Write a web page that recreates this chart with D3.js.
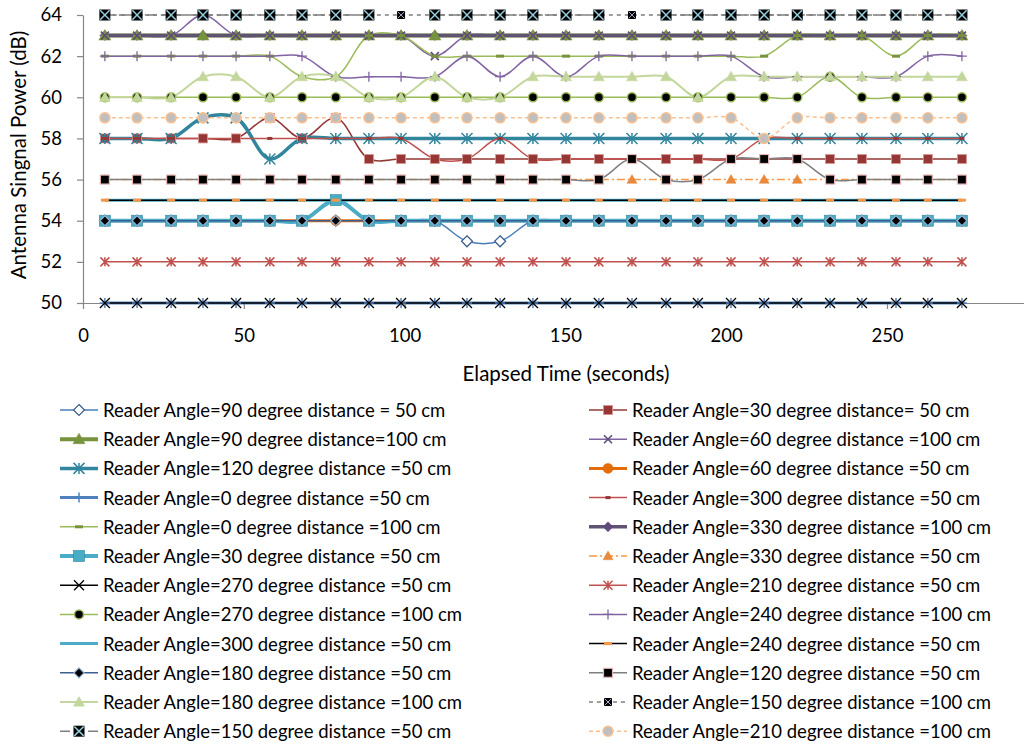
<!DOCTYPE html>
<html>
<head>
<meta charset="utf-8">
<script src="https://cdn.jsdelivr.net/npm/d3@7"></script>
<style>
  html, body { margin: 0; padding: 0; background: #fff; }
  svg { display: block; font-family: Lato, "Open Sans", sans-serif; }
</style>
</head>
<body>
<svg id="chart" width="1024" height="744"></svg>
<script>
// Sample times (seconds)
const times = [6.8, 16.8, 27.4, 37.3, 47.6, 58.1, 68.1, 78.6, 88.9, 98.9, 109.4, 119.4, 129.7, 139.9,
  150.2, 160.4, 170.7, 181.3, 191.2, 201.5, 211.8, 222.1, 232.3, 242.2, 252.8, 262.7, 273.3];

const yTicks = [50, 52, 54, 56, 58, 60, 62, 64];
const xTicks = [0, 50, 100, 150, 200, 250];

// Measured signal power (dB) per reader angle / distance
const a90d50   = [54,54,54,54,54,54,54,54,54,54,54,53,53,54,54,54,54,54,54,54,54,54,54,54,54,54,54];
const a30d50r  = [58,58,58,58,58,59,58,59,57,57,57,57,57,57,57,57,57,57,57,57,57,57,57,57,57,57,57];
const a90d100  = [63,63,63,63,63,63,63,63,63,63,63,63,63,63,63,63,63,63,63,63,63,63,63,63,63,63,63];
const a60d100  = [63,63,63,64,63,63,63,63,63,63,62,63,63,63,63,63,63,63,63,63,63,63,63,63,63,63,63];
const a120d50  = [58,58,58,59,59,57,58,58,58,58,58,58,58,58,58,58,58,58,58,58,58,58,58,58,58,58,58];
const a60d50   = [54,54,54,54,54,54,54,54,54,54,54,54,54,54,54,54,54,54,54,54,54,54,54,54,54,54,54];
const a0d50    = [50,50,50,50,50,50,50,50,50,50,50,50,50,50,50,50,50,50,50,50,50,50,50,50,50,50,50];
const a300d50r = [58,58,58,58,58,58,58,58,58,58,57,57,58,57,57,57,57,57,57,57,58,58,58,58,58,58,58];
const a0d100   = [62,62,62,62,62,62,61,61,63,63,62,62,62,62,62,62,62,62,62,62,62,63,63,63,62,63,63];
const a330d100 = [63,63,63,63,63,63,63,63,63,63,63,63,63,63,63,63,63,63,63,63,63,63,63,63,63,63,63];
const a30d50b  = [54,54,54,54,54,54,54,55,54,54,54,54,54,54,54,54,54,54,54,54,54,54,54,54,54,54,54];
const a330d50  = [56,56,56,56,56,56,56,56,56,56,56,56,56,56,56,56,56,56,56,56,56,56,56,56,56,56,56];
const a270d50  = [50,50,50,50,50,50,50,50,50,50,50,50,50,50,50,50,50,50,50,50,50,50,50,50,50,50,50];
const a210d50  = [52,52,52,52,52,52,52,52,52,52,52,52,52,52,52,52,52,52,52,52,52,52,52,52,52,52,52];
const a270d100 = [60,60,60,60,60,60,60,60,60,60,60,60,60,60,60,60,60,60,60,60,60,60,61,60,60,60,60];
const a240d100 = [62,62,62,62,62,62,62,61,61,61,61,62,61,62,61,62,62,62,62,62,61,61,61,61,61,62,62];
const a300d50b = [55,55,55,55,55,55,55,55,55,55,55,55,55,55,55,55,55,55,55,55,55,55,55,55,55,55,55];
const a240d50  = [55,55,55,55,55,55,55,55,55,55,55,55,55,55,55,55,55,55,55,55,55,55,55,55,55,55,55];
const a180d50  = [54,54,54,54,54,54,54,54,54,54,54,54,54,54,54,54,54,54,54,54,54,54,54,54,54,54,54];
const a120d50g = [56,56,56,56,56,56,56,56,56,56,56,56,56,56,56,56,57,56,56,57,57,57,56,56,56,56,56];
const a180d100 = [60,60,60,61,61,60,61,61,60,60,61,60,60,61,61,61,61,61,60,61,61,61,61,61,61,61,61];
const a150d100 = [64,64,64,64,64,64,64,64,64,64,64,64,64,64,64,64,64,64,64,64,64,64,64,64,64,64,64];
const a150d50  = [64,64,64,64,64,64,64,64,64,null,64,64,64,64,64,64,null,64,64,64,64,64,64,64,64,64,64];
const a210d100 = [59,59,59,59,59,59,59,59,59,59,59,59,59,59,59,59,59,59,59,59,58,59,59,59,59,59,59];

// Series table: label, values and drawing style
const series = [
  { name: "Reader Angle=90 degree distance = 50 cm", values: a90d50, color: "#4A7EBB", width: 1.5,
    marker: { type: "diamond", r: 5.5, fill: "#fff", stroke: "#385D8A", sw: 1.2 } },
  { name: "Reader Angle=30 degree distance= 50 cm", values: a30d50r, color: "#953735", width: 1.5,
    marker: { type: "square", r: 4.5, fill: "#953735", stroke: "#D99694", sw: 0.8 } },
  { name: "Reader Angle=90 degree distance=100 cm", values: a90d100, color: "#77933C", width: 4,
    marker: { type: "triangle", r: 6, fill: "#77933C", stroke: "#77933C", sw: 0.5 } },
  { name: "Reader Angle=60 degree distance =100 cm", values: a60d100, color: "#8064A2", width: 1.5,
    marker: { type: "x", r: 4, fill: "none", stroke: "#604A7B", sw: 1.6 } },
  { name: "Reader Angle=120 degree distance =50 cm", values: a120d50, color: "#31859C", width: 3.5,
    marker: { type: "star", r: 5.5, fill: "none", stroke: "#31859C", sw: 1.5 } },
  { name: "Reader Angle=60 degree distance =50 cm", values: a60d50, color: "#E46C0A", width: 3,
    marker: { type: "circle", r: 5, fill: "#E46C0A", stroke: "#E46C0A", sw: 0.5 } },
  { name: "Reader Angle=0 degree distance =50 cm", values: a0d50, color: "#4F81BD", width: 3,
    marker: { type: "plus", r: 5, fill: "none", stroke: "#4F81BD", sw: 1.5 } },
  { name: "Reader Angle=300 degree distance =50 cm", values: a300d50r, color: "#C0504D", width: 1.5,
    marker: { type: "dash", r: 2.5, fill: "#953735", stroke: "none", sw: 0 } },
  { name: "Reader Angle=0 degree distance =100 cm", values: a0d100, color: "#9BBB59", width: 1.5,
    marker: { type: "dash", r: 4, fill: "#77933C", stroke: "none", sw: 0 } },
  { name: "Reader Angle=330 degree distance =100 cm", values: a330d100, color: "#5E5472", width: 3.5,
    marker: { type: "diamond", r: 5, fill: "#604A7B", stroke: "#604A7B", sw: 0.5 }, under: true },
  { name: "Reader Angle=30 degree distance =50 cm", values: a30d50b, color: "#4BACC6", width: 4,
    marker: { type: "square", r: 5.5, fill: "#4BACC6", stroke: "#31859C", sw: 0.6 } },
  { name: "Reader Angle=330 degree distance =50 cm", values: a330d50, color: "#F79646", width: 1.5,
    dash: "8,3,2,3", marker: { type: "triangle", r: 5, fill: "#E8893B", stroke: "#E8893B", sw: 0.5 } },
  { name: "Reader Angle=270 degree distance =50 cm", values: a270d50, color: "#000", width: 1.5,
    marker: { type: "x", r: 5, fill: "none", stroke: "#000", sw: 1.3 } },
  { name: "Reader Angle=210 degree distance =50 cm", values: a210d50, color: "#C0504D", width: 1.5,
    marker: { type: "star", r: 4.5, fill: "none", stroke: "#C0504D", sw: 1.5 } },
  { name: "Reader Angle=270 degree distance =100 cm", values: a270d100, color: "#9BBB59", width: 1.5,
    marker: { type: "circle", r: 4.5, fill: "#000", stroke: "#9BBB59", sw: 1.5 } },
  { name: "Reader Angle=240 degree distance =100 cm", values: a240d100, color: "#8064A2", width: 1.5,
    marker: { type: "plus", r: 5, fill: "none", stroke: "#8064A2", sw: 1.3 } },
  { name: "Reader Angle=300 degree distance =50 cm", values: a300d50b, color: "#4BACC6", width: 3,
    marker: null },
  { name: "Reader Angle=240 degree distance =50 cm", values: a240d50, color: "#000", width: 1.5,
    marker: { type: "dash", r: 4, fill: "#F79646", stroke: "none", sw: 0 } },
  { name: "Reader Angle=180 degree distance =50 cm", values: a180d50, color: "#3B5E91", width: 1.5,
    marker: { type: "diamond", r: 5, fill: "#000", stroke: "#95B3D7", sw: 1.2 } },
  { name: "Reader Angle=120 degree distance =50 cm", values: a120d50g, color: "#7F7F7F", width: 1.5,
    marker: { type: "square", r: 4.5, fill: "#000", stroke: "#E6B9B8", sw: 1.2 } },
  { name: "Reader Angle=180 degree distance =100 cm", values: a180d100, color: "#C3D69B", width: 2,
    marker: { type: "triangle", r: 5.5, fill: "#C3D69B", stroke: "#C3D69B", sw: 0.5 } },
  { name: "Reader Angle=150 degree distance =100 cm", values: a150d100, color: "#7F7F7F", width: 1.5,
    dash: "4,4", marker: { type: "boxx", r: 4, fill: "#000", stroke: "#B3A2C7", sw: 1 } },
  { name: "Reader Angle=150 degree distance =50 cm", values: a150d50, color: "#7F7F7F", width: 1.5,
    dash: "10,4", marker: { type: "boxx", r: 5.5, fill: "#000", stroke: "#93CDDD", sw: 1.5 } },
  { name: "Reader Angle=210 degree distance =100 cm", values: a210d100, color: "#FAC090", width: 1.5,
    dash: "4,3", marker: { type: "circle", r: 5, fill: "#BFBFBF", stroke: "#FAC090", sw: 1.5 } }
];

const svg = d3.select("#chart");
const x = d3.scaleLinear().domain([0, 300]).range([83, 1047.8]);
const y = d3.scaleLinear().domain([50, 64]).range([303, 15]);
const axisColor = "#868686";
const fontSize = 18.5;
const titleSize = 20.5;

// Axes
const gx = svg.append("g").attr("transform", `translate(0,${y(50)})`)
  .call(d3.axisBottom(x).tickValues(xTicks).tickSize(6).tickSizeOuter(0).tickPadding(20));
const gy = svg.append("g").attr("transform", `translate(${x(0)},0)`)
  .call(d3.axisLeft(y).tickValues(yTicks).tickSize(6).tickSizeOuter(0).tickPadding(15));
[gx, gy].forEach(g => {
  g.select(".domain").attr("stroke", axisColor).attr("stroke-width", 1.2);
  g.selectAll(".tick line").attr("stroke", axisColor).attr("stroke-width", 1.2);
  g.selectAll(".tick text").attr("fill", "#000").attr("font-size", fontSize)
    .attr("font-family", "Lato, sans-serif");
});

svg.append("text").attr("transform", "translate(18,155) rotate(-90)")
  .attr("text-anchor", "middle").attr("dominant-baseline", "central")
  .attr("font-size", titleSize).text("Antenna Singnal Power (dB)");
svg.append("text").attr("x", 566).attr("y", 373)
  .attr("text-anchor", "middle").attr("dominant-baseline", "central")
  .attr("font-size", titleSize).text("Elapsed Time (seconds)");

// Marker glyphs
function drawMarker(g, m, cx, cy) {
  const r = m.r;
  if (m.type === "circle") {
    g.append("circle").attr("cx", cx).attr("cy", cy).attr("r", r)
      .attr("fill", m.fill).attr("stroke", m.stroke).attr("stroke-width", m.sw);
  } else if (m.type === "square") {
    g.append("rect").attr("x", cx - r).attr("y", cy - r).attr("width", 2 * r).attr("height", 2 * r)
      .attr("fill", m.fill).attr("stroke", m.stroke).attr("stroke-width", m.sw);
  } else if (m.type === "diamond") {
    g.append("path").attr("d", `M${cx},${cy - r}L${cx + r},${cy}L${cx},${cy + r}L${cx - r},${cy}Z`)
      .attr("fill", m.fill).attr("stroke", m.stroke).attr("stroke-width", m.sw);
  } else if (m.type === "triangle") {
    g.append("path").attr("d", `M${cx},${cy - r}L${cx + r},${cy + r * 0.75}L${cx - r},${cy + r * 0.75}Z`)
      .attr("fill", m.fill).attr("stroke", m.stroke).attr("stroke-width", m.sw);
  } else if (m.type === "x") {
    g.append("path").attr("d", `M${cx - r},${cy - r}L${cx + r},${cy + r}M${cx - r},${cy + r}L${cx + r},${cy - r}`)
      .attr("fill", "none").attr("stroke", m.stroke).attr("stroke-width", m.sw);
  } else if (m.type === "star") {
    g.append("path").attr("d", `M${cx - r},${cy - r}L${cx + r},${cy + r}M${cx - r},${cy + r}L${cx + r},${cy - r}M${cx},${cy - r}L${cx},${cy + r}`)
      .attr("fill", "none").attr("stroke", m.stroke).attr("stroke-width", m.sw);
  } else if (m.type === "plus") {
    g.append("path").attr("d", `M${cx - r},${cy}L${cx + r},${cy}M${cx},${cy - r}L${cx},${cy + r}`)
      .attr("fill", "none").attr("stroke", m.stroke).attr("stroke-width", m.sw);
  } else if (m.type === "dash") {
    g.append("rect").attr("x", cx - r).attr("y", cy - 1.5).attr("width", 2 * r).attr("height", 3)
      .attr("fill", m.fill);
  } else if (m.type === "boxx") {
    g.append("rect").attr("x", cx - r).attr("y", cy - r).attr("width", 2 * r).attr("height", 2 * r)
      .attr("fill", m.fill);
    const k = r * 0.85;
    g.append("path").attr("d", `M${cx - k},${cy - k}L${cx + k},${cy + k}M${cx - k},${cy + k}L${cx + k},${cy - k}`)
      .attr("fill", "none").attr("stroke", m.stroke).attr("stroke-width", m.sw);
  }
}

// Smoothed series lines
const line = d3.line()
  .defined(d => d.v !== null)
  .x(d => x(d.t)).y(d => y(d.v))
  .curve(d3.curveCatmullRom.alpha(0.5));

const linesLayer = svg.append("g");
const markerLayer = svg.append("g");

series.forEach(s => {
  const pts = times.map((t, i) => ({ t, v: s.values[i] }));
  linesLayer.append("path").datum(pts).attr("d", line)
    .attr("fill", "none").attr("stroke", s.color).attr("stroke-width", s.width)
    .attr("stroke-dasharray", s.dash || null);
});

const markerOrder = series.filter(s => s.under).concat(series.filter(s => !s.under));
markerOrder.forEach(s => {
  if (!s.marker) return;
  const g = markerLayer.append("g");
  times.forEach((t, i) => {
    if (s.values[i] === null) return;
    drawMarker(g, s.marker, x(t), y(s.values[i]));
  });
});

// Legend: two columns, filled row by row
const legend = svg.append("g");
series.forEach((s, i) => {
  const col = i % 2, row = Math.floor(i / 2);
  const x0 = col === 0 ? 60 : 589;
  const cy = 410 + row * 29.2;
  const g = legend.append("g");
  g.append("line").attr("x1", x0).attr("x2", x0 + 38).attr("y1", cy).attr("y2", cy)
    .attr("stroke", s.color).attr("stroke-width", s.width)
    .attr("stroke-dasharray", s.dash || null);
  if (s.marker) drawMarker(g, s.marker, x0 + 19, cy);
  g.append("text").attr("x", x0 + 43).attr("y", cy).attr("dominant-baseline", "central")
    .attr("font-size", fontSize).attr("fill", "#000").text(s.name);
});
</script>
</body>
</html>
